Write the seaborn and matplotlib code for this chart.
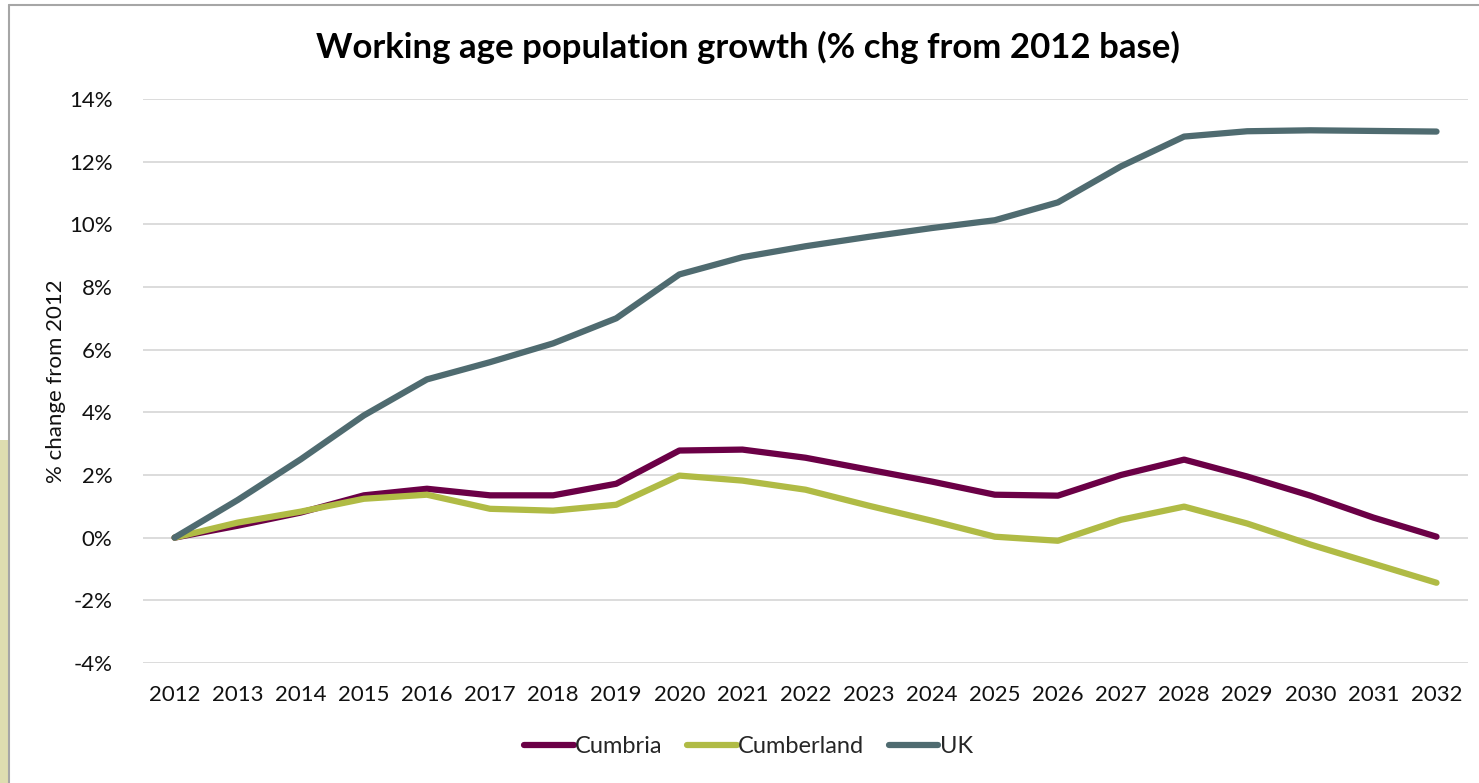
import matplotlib
matplotlib.use("Agg")
import matplotlib.pyplot as plt
import seaborn as sns
import pandas as pd
from matplotlib.patches import Rectangle
from matplotlib.lines import Line2D
from matplotlib.ticker import FuncFormatter

years = [str(y) for y in range(2012, 2033)]
cumbria = [0.0, 0.38, 0.80, 1.35, 1.56, 1.35, 1.35, 1.72, 2.78, 2.81, 2.55,
           2.17, 1.79, 1.37, 1.34, 2.00, 2.49, 1.95, 1.34, 0.64, 0.03]
cumberland = [0.0, 0.48, 0.83, 1.24, 1.37, 0.92, 0.86, 1.05, 1.98, 1.82, 1.53,
              1.02, 0.54, 0.03, -0.10, 0.57, 0.99, 0.45, -0.22, -0.83, -1.44]
uk = [0.0, 1.20, 2.50, 3.90, 5.05, 5.60, 6.20, 7.00, 8.40, 8.95, 9.30,
      9.60, 9.88, 10.13, 10.70, 11.85, 12.80, 12.97, 13.00, 12.98, 12.96]
series_names = ["Cumbria", "Cumberland", "UK"]
colors = ["#6B0046", "#B0BB45", "#4F6B70"]

df = pd.DataFrame({"Year": years, "Cumbria": cumbria,
                   "Cumberland": cumberland, "UK": uk})
long = df.melt(id_vars="Year", var_name="Series", value_name="Value")
long["x"] = long["Year"].map({y: i for i, y in enumerate(years)})

sns.set_theme(style="white")
plt.rcParams["font.family"] = ["Lato", "DejaVu Sans"]

fig = plt.figure(figsize=(14.79, 7.83), dpi=100)
ax = fig.add_axes([0.0967, 0.1533, 0.8959, 0.7203])

sns.lineplot(data=long, x="x", y="Value", hue="Series", hue_order=series_names,
             palette=colors, linewidth=4.5, ax=ax, legend=False,
             solid_capstyle="round", solid_joinstyle="round")

ax.set_xlim(-0.5, len(years) - 0.5)
ax.set_ylim(-4, 14)
ax.set_yticks(range(-4, 15, 2))
ax.yaxis.set_major_formatter(FuncFormatter(lambda v, p: f"{int(round(v))}%"))
ax.set_xticks(range(len(years)))
ax.set_xticklabels(years)
ax.tick_params(axis="both", labelsize=16, colors="#111111", length=0)
ax.tick_params(axis="x", pad=16)
ax.tick_params(axis="y", pad=22)
ax.grid(axis="y", color="#D9D9D9", linewidth=1.3)
ax.grid(axis="x", visible=False)
for s in ax.spines.values():
    s.set_visible(False)
ax.set_xlabel("")
ax.set_ylabel("% change from 2012", fontsize=16, color="#111111", labelpad=2)

fig.text(0.506, 0.94, "Working age population growth (% chg from 2012 base)",
         ha="center", va="center", fontsize=25, fontweight="bold", color="#000000")

handles = [Line2D([0], [0], color=c, lw=4.5, solid_capstyle="round") for c in colors]
fig.legend(handles, series_names, loc="center", bbox_to_anchor=(0.506, 0.046),
           ncol=3, frameon=False, fontsize=17, handlelength=2.1,
           handletextpad=0.05, columnspacing=1.05)

# frame decorations
fig.patches.append(Rectangle((0, 0), 8 / 1479, 1 - 440 / 783, transform=fig.transFigure,
                             facecolor="#DEDDB0", edgecolor="none", zorder=0))
fig.lines.append(Line2D([9 / 1479, 9 / 1479], [0, 1 - 5 / 783], transform=fig.transFigure,
                        color="#A6A6A6", lw=1.5))
fig.lines.append(Line2D([9 / 1479, 1], [1 - 5 / 783, 1 - 5 / 783], transform=fig.transFigure,
                        color="#A6A6A6", lw=1.5))

fig.savefig("out.png", dpi=100)
